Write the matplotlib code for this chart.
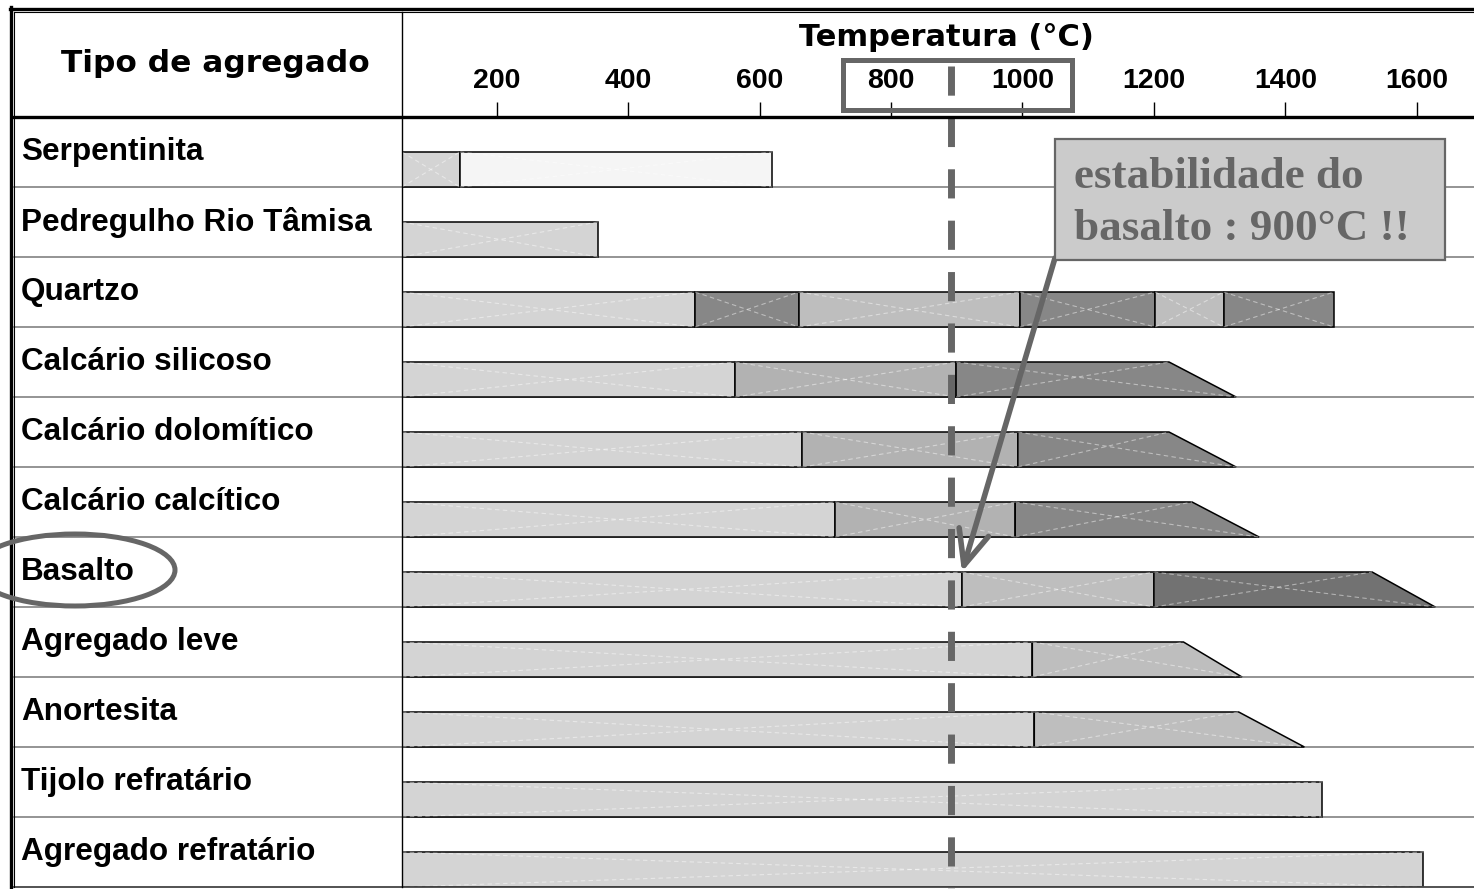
import matplotlib
matplotlib.use('Agg')
import matplotlib.pyplot as plt
from matplotlib.patches import Polygon, Rectangle, Ellipse
from matplotlib.transforms import blended_transform_factory

# dados (temperaturas em °C)
materials = ['Serpentinita', 'Pedregulho Rio Tâmisa', 'Quartzo', 'Calcário silicoso',
             'Calcário dolomítico', 'Calcário calcítico', 'Basalto', 'Agregado leve',
             'Anortesita', 'Tijolo refratário', 'Agregado refratário']
segment_ends = [[144, 619], [354], [502, 660, 996, 1202, 1306, 1474],
                [563, 899, 1223], [665, 993, 1223], [715, 989, 1258],
                [908, 1200, 1532], [1015, 1245], [1018, 1329], [1456], [1610]]
segment_shades = [['A', 'P'], ['A'], ['A', 'D', 'B', 'D', 'B', 'D'],
                  ['A', 'C', 'D'], ['A', 'C', 'D'], ['A', 'C', 'D'],
                  ['A', 'B', 'E'], ['A', 'B'], ['A', 'B'], ['A'], ['A']]
taper_ends = [None, None, None, 1325, 1325, 1360, 1628, 1334, 1429, None, None]
temp_ticks = [200, 400, 600, 800, 1000, 1200, 1400, 1600]
basalt_limit = 891
arrow_target = 908
note_lines = ['estabilidade do', 'basalto : 900°C !!']

shade_colors = {'A': '#d4d4d4', 'P': '#f5f5f5', 'B': '#bebebe',
                'C': '#b2b2b2', 'D': '#878787', 'E': '#727272'}
annot = '#666666'

W, H = 1474, 889
LEFT, TOP, BOTTOM = 402, 117, 887
t_min, t_max = 56, 1687

fig = plt.figure(figsize=(W / 100, H / 100), dpi=100)
ax = fig.add_axes([LEFT / W, (H - BOTTOM) / H, (W - LEFT) / W, (BOTTOM - TOP) / H])
ov = fig.add_axes([0, 0, 1, 1])
ov.set_xlim(0, W)
ov.set_ylim(H, 0)
ov.axis('off')

n = len(materials)
ax.set_xlim(t_min, t_max)
ax.set_ylim(n, 0)
for s in ax.spines.values():
    s.set_visible(False)
ax.set_yticks([])
ax.xaxis.tick_top()
ax.set_xticks(temp_ticks)
ax.set_xticklabels([str(t) for t in temp_ticks], fontfamily='Liberation Sans',
                   fontweight='bold', fontsize=20.5)
ax.tick_params(axis='x', direction='out', length=10.5, width=1, pad=6, colors='black')

# linhas da tabela
ext = (14 - LEFT) / (W - LEFT)
for i in range(1, n):
    ax.axhline(i, xmin=ext, xmax=1, color='#777777', lw=1.1, clip_on=False, zorder=1)
ov.plot([14, W], [BOTTOM, BOTTOM], color='#444444', lw=1.3)
ov.plot([14, W], [TOP, TOP], color='black', lw=2.4)
ov.plot([LEFT, LEFT], [12, BOTTOM], color='black', lw=1.0)
ov.plot([11, 11], [7, BOTTOM + 1], color='black', lw=2.4)
ov.plot([14.5, 14.5], [12, BOTTOM], color='black', lw=0.8)
ov.plot([10, W], [8.5, 8.5], color='black', lw=2.4)
ov.plot([14, W], [12, 12], color='black', lw=0.8)

# barras
for i, (ends, shades, taper) in enumerate(zip(segment_ends, segment_shades, taper_ends)):
    top, bot = i + 0.5, i + 1.0
    starts = [t_min] + ends[:-1]
    for k, (x0, x1, sh) in enumerate(zip(starts, ends, shades)):
        xb = taper if (taper is not None and k == len(ends) - 1) else x1
        poly = Polygon([(x0, bot), (x0, top), (x1, top), (xb, bot)], closed=True,
                       fc=shade_colors[sh], ec='black', lw=1.1, zorder=2)
        ax.add_patch(poly)
        ax.plot([x0, x1], [bot, top], color='white', lw=0.8, alpha=0.45,
                dashes=(4, 3), zorder=3)
        ax.plot([x0, xb], [top, bot], color='white', lw=0.8, alpha=0.45,
                dashes=(4, 3), zorder=3)

# rótulos das linhas
lab_tr = blended_transform_factory(ov.transData, ax.transData)
for i, name in enumerate(materials):
    ax.text(21, i + 0.5, name, transform=lab_tr, ha='left', va='center',
            fontfamily='Liberation Sans', fontweight='bold', fontsize=22.7, zorder=6)

ov.text(215, 63, 'Tipo de agregado', ha='center', va='center',
        fontfamily='DejaVu Sans', fontweight='bold', fontsize=22.5)
ov.text(946, 37, 'Temperatura (°C)', ha='center', va='center',
        fontfamily='DejaVu Sans', fontweight='bold', fontsize=22, zorder=6)

# destaques
ax.plot([basalt_limit, basalt_limit], [(BOTTOM - 66) / (BOTTOM - TOP), -0.003],
        transform=ax.get_xaxis_transform(), color=annot, lw=5,
        dashes=(4.2, 3.2), solid_capstyle='butt', clip_on=False, zorder=5)
ov.add_patch(Rectangle((843, 60), 229, 50, fill=False, ec=annot, lw=3.6, zorder=4))
ov.add_patch(Ellipse((75, 570), 200, 72, fill=False, ec=annot, lw=3.6, zorder=4))

ov.add_patch(Rectangle((1055, 139), 390, 121, fc='#cbcbcb', ec=annot, lw=1.6, zorder=4))
for j, line in enumerate(note_lines):
    ov.text(1074, 188 + 52 * j, line, ha='left', va='baseline', color=annot,
            fontfamily='Liberation Serif', fontweight='bold', fontsize=32.5, zorder=5)

ax.annotate('', xy=(arrow_target, 6.5), xycoords='data',
            xytext=(1055, 258), textcoords=ov.transData,
            arrowprops=dict(arrowstyle='->,head_length=2.5,head_width=1.1',
                            color=annot, lw=4, shrinkA=0, shrinkB=0),
            annotation_clip=False, zorder=6)

fig.savefig('out.png', dpi=100, facecolor='white')
